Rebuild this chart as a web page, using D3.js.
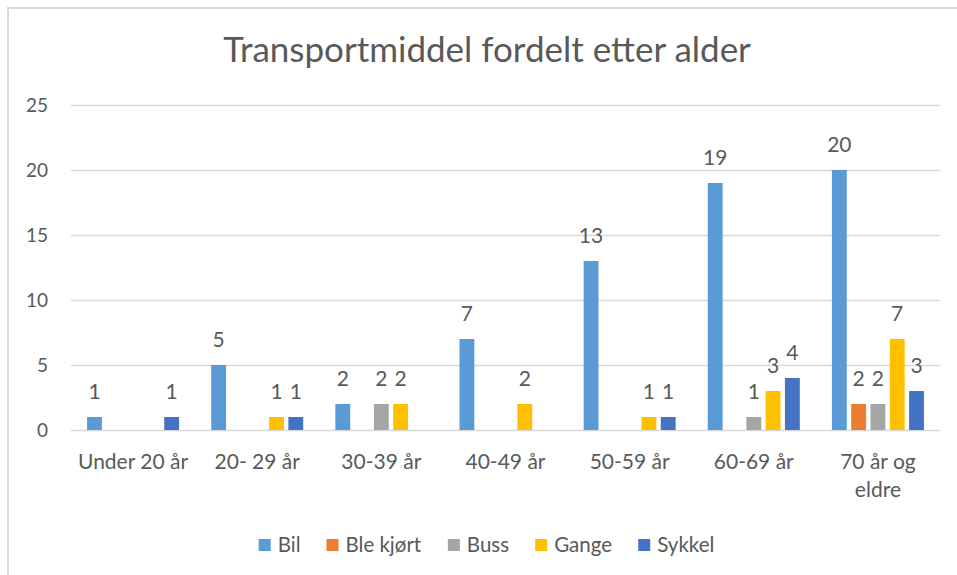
<!DOCTYPE html>
<head>
  <meta charset="utf-8">
  <script src="https://d3js.org/d3.v7.min.js"></script>
  <style>
    body {
      margin: 0;
      background: #fff;
      font-family: Lato, "Open Sans", sans-serif;
    }
    .grid line {
      stroke: #d9d9d9;
      stroke-width: 1.3;
    }
    .grid path {
      display: none;
    }
    text {
      fill: #595959;
    }
  </style>
</head>

<body>
  <div id="chart"></div>

  <script>
    // data
    var categories = ["Under 20 år", "20- 29 år", "30-39 år", "40-49 år", "50-59 år", "60-69 år", "70 år og eldre"];
    var tickLines = [["Under 20 år"], ["20- 29 år"], ["30-39 år"], ["40-49 år"], ["50-59 år"], ["60-69 år"], ["70 år og", "eldre"]];
    var series = ["Bil", "Ble kjørt", "Buss", "Gange", "Sykkel"];
    var bil = [1, 5, 2, 7, 13, 19, 20];
    var bleKjort = [0, 0, 0, 0, 0, 0, 2];
    var buss = [0, 0, 2, 0, 0, 1, 2];
    var gange = [0, 1, 2, 2, 1, 3, 7];
    var sykkel = [1, 1, 0, 0, 1, 4, 3];
    var yTicks = [0, 5, 10, 15, 20, 25];
    var colors = ["#5b9bd5", "#ed7d31", "#a5a5a5", "#ffc000", "#4472c4"];

    var values = [bil, bleKjort, buss, gange, sykkel];

    var width = 957,
        height = 575,
        margin = {top: 105, right: 17, bottom: 145, left: 71};

    var svg = d3.select("#chart").append("svg")
      .attr("width", width)
      .attr("height", height);

    // frame (only left and top edges show in the reference)
    svg.append("path")
      .attr("d", "M8," + height + "V8H" + width)
      .attr("fill", "none")
      .attr("stroke", "#d9d9d9")
      .attr("stroke-width", 2);

    svg.append("text")
      .attr("x", 487)
      .attr("y", 62)
      .attr("text-anchor", "middle")
      .style("font-size", "35px")
      .text("Transportmiddel fordelt etter alder")
      .each(function() {
        // squeeze to the reference width, the original font is narrower
        var w = this.getComputedTextLength();
        if (w > 532) d3.select(this).style("font-size", (35 * 532 / w) + "px");
      });

    var x0 = d3.scaleBand()
      .domain(categories)
      .range([margin.left, width - margin.right]);

    var groupW = 92;
    var x1 = d3.scaleBand()
      .domain(series)
      .range([(x0.bandwidth() - groupW) / 2, (x0.bandwidth() + groupW) / 2])
      .paddingInner(0.23);

    var y = d3.scaleLinear()
      .domain([0, 25])
      .range([height - margin.bottom, margin.top]);

    // gridlines + y labels
    svg.append("g")
      .attr("class", "grid")
      .attr("transform", "translate(" + margin.left + ",0)")
      .call(d3.axisLeft(y).tickValues(yTicks).tickSize(-(width - margin.left - margin.right)).tickFormat(""));

    svg.append("g").selectAll("text")
        .data(yTicks)
      .enter().append("text")
        .attr("x", 48)
        .attr("y", function(d) { return y(d); })
        .attr("dy", "0.35em")
        .attr("text-anchor", "end")
        .style("font-size", "19px")
        .text(function(d) { return d; });

    // bars
    var groups = svg.append("g").selectAll("g")
        .data(categories)
      .enter().append("g")
        .attr("transform", function(d) { return "translate(" + x0(d) + ",0)"; });

    var cells = groups.selectAll("g")
        .data(function(d, i) {
          return series.map(function(s, j) { return {s: s, j: j, v: values[j][i]}; })
            .filter(function(e) { return e.v > 0; });
        })
      .enter().append("g");

    cells.append("rect")
      .attr("x", function(d) { return x1(d.s); })
      .attr("y", function(d) { return y(d.v); })
      .attr("width", x1.bandwidth())
      .attr("height", function(d) { return y(0) - y(d.v); })
      .attr("fill", function(d) { return colors[d.j]; });

    cells.append("text")
      .attr("x", function(d) { return x1(d.s) + x1.bandwidth() / 2; })
      .attr("y", function(d) { return y(d.v) - 18; })
      .attr("text-anchor", "middle")
      .style("font-size", "21px")
      .text(function(d) { return d.v; });

    // category labels
    svg.append("g").selectAll("text")
        .data(categories)
      .enter().append("text")
        .attr("x", function(d) { return x0(d) + x0.bandwidth() / 2; })
        .attr("y", 469)
        .attr("text-anchor", "middle")
        .style("font-size", "21px")
        .each(function(d, i) {
          var t = d3.select(this);
          tickLines[i].forEach(function(line, k) {
            t.append("tspan")
              .attr("x", x0(d) + x0.bandwidth() / 2)
              .attr("dy", k ? 28 : 0)
              .text(line);
          });
        });

    // legend
    var legend = svg.append("g");
    var items = legend.selectAll("g")
        .data(series)
      .enter().append("g");

    items.append("rect")
      .attr("width", 12)
      .attr("height", 12)
      .attr("y", 539)
      .attr("fill", function(d, i) { return colors[i]; });

    items.append("text")
      .attr("x", 19)
      .attr("y", 552)
      .style("font-size", "20.5px")
      .text(function(d) { return d; });

    var gap = 26, xpos = 0;
    items.each(function() {
      var w = this.getBBox().width;
      d3.select(this).attr("transform", "translate(" + xpos + ",0)");
      xpos += w + gap;
    });
    legend.attr("transform", "translate(" + ((width - (xpos - gap)) / 2 + 8) + ",0)");
  </script>
</body>
